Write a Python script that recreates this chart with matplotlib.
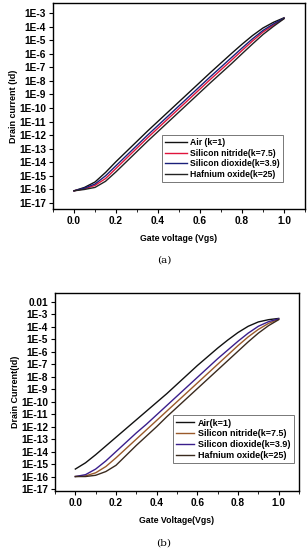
import numpy as np
import matplotlib
matplotlib.use("Agg")
import matplotlib.pyplot as plt
from matplotlib.ticker import FixedLocator, FixedFormatter, MultipleLocator, NullLocator

plt.rcParams['font.family'] = ['Liberation Sans', 'DejaVu Sans']

# gate voltage (V)
vgs = [0.0, 0.05, 0.1, 0.15, 0.2, 0.25, 0.3, 0.35, 0.4, 0.45, 0.5,
       0.55, 0.6, 0.65, 0.7, 0.75, 0.8, 0.85, 0.9, 0.95, 1.0]

# (a) log10 of drain current
air_a = [-16.1, -15.85, -15.45, -14.75, -13.95, -13.2, -12.45, -11.7, -10.98, -10.26, -9.54,
         -8.82, -8.1, -7.38, -6.68, -5.98, -5.3, -4.66, -4.1, -3.68, -3.35]
nitride_a = [-16.1, -15.95, -15.7, -15.2, -14.45, -13.7, -12.95, -12.2, -11.48, -10.76, -10.04,
             -9.32, -8.6, -7.88, -7.18, -6.48, -5.76, -5.06, -4.4, -3.88, -3.4]
dioxide_a = [-16.1, -15.9, -15.6, -15.0, -14.25, -13.5, -12.75, -12.0, -11.28, -10.56, -9.84,
             -9.12, -8.4, -7.68, -6.98, -6.28, -5.58, -4.9, -4.28, -3.8, -3.38]
hafnium_a = [-16.1, -16.0, -15.85, -15.4, -14.7, -13.95, -13.2, -12.45, -11.73, -11.01, -10.29,
             -9.57, -8.85, -8.13, -7.43, -6.73, -6.0, -5.28, -4.58, -3.98, -3.42]

# (b) log10 of drain current
air_b = [-15.4, -14.9, -14.25, -13.55, -12.85, -12.15, -11.45, -10.75, -10.05, -9.35, -8.6,
         -7.85, -7.1, -6.4, -5.7, -5.05, -4.45, -3.95, -3.6, -3.42, -3.32]
nitride_b = [-16.0, -15.95, -15.7, -15.2, -14.5, -13.75, -13.0, -12.25, -11.5, -10.75, -10.0,
             -9.25, -8.5, -7.75, -7.0, -6.25, -5.5, -4.8, -4.2, -3.72, -3.38]
dioxide_b = [-16.0, -15.85, -15.4, -14.75, -14.0, -13.25, -12.5, -11.8, -11.05, -10.3, -9.55,
             -8.8, -8.05, -7.3, -6.55, -5.85, -5.15, -4.5, -3.95, -3.58, -3.35]
hafnium_b = [-16.0, -16.0, -15.9, -15.6, -15.1, -14.3, -13.5, -12.75, -12.0, -11.2, -10.45,
             -9.7, -8.95, -8.2, -7.45, -6.7, -5.95, -5.2, -4.5, -3.9, -3.42]

labels_a = ["Air (k=1)", "Silicon nitride(k=7.5)", "Silicon dioxide(k=3.9)", "Hafnium oxide(k=25)"]
labels_b = ["Air(k=1)", "Silicon nitride(k=7.5)", "Silicon dioxide(k=3.9)", "Hafnium oxide(k=25)"]

decades_a = list(range(-17, -2))
ticklabels_a = ["1E%d" % d for d in decades_a]
decades_b = list(range(-17, -1))
ticklabels_b = ["1E%d" % d for d in decades_b[:-1]] + ["0.01"]
xticks = [0.0, 0.2, 0.4, 0.6, 0.8, 1.0]


def panel(ax, curves, colors, labels, decades, ticklabels, ylim, xlabel, ylabel,
          legpos, legsize, handlelen):
    v = np.array(vgs)
    for c, col, lab in zip(curves, colors, labels):
        ax.plot(v, 10.0 ** np.array(c), color=col, lw=1.0, label=lab)
    ax.set_yscale("log")
    ax.set_xlim(-0.1, 1.1)
    ax.set_ylim(10.0 ** ylim[0], 10.0 ** ylim[1])
    ax.yaxis.set_major_locator(FixedLocator([10.0 ** d for d in decades]))
    ax.yaxis.set_major_formatter(FixedFormatter(ticklabels))
    ax.yaxis.set_minor_locator(NullLocator())
    ax.set_xticks(xticks)
    ax.set_xticklabels(["%.1f" % x for x in xticks])
    ax.xaxis.set_minor_locator(MultipleLocator(0.1))
    ax.tick_params(direction="out", length=3, width=0.8, labelsize=7.3, pad=2)
    ax.tick_params(which="minor", direction="out", length=1.8, width=0.6)
    for lab in ax.get_xticklabels() + ax.get_yticklabels():
        lab.set_fontweight("bold")
    for s in ax.spines.values():
        s.set_linewidth(1.0)
    ax.set_xlabel(xlabel, fontsize=6.3, fontweight="bold", labelpad=6)
    ax.set_ylabel(ylabel, fontsize=6.5, fontweight="bold", labelpad=1)
    leg = ax.legend(loc="lower left", bbox_to_anchor=legpos, fontsize=legsize, frameon=True,
                    fancybox=False, edgecolor="#555555", handlelength=handlelen,
                    handletextpad=0.4, borderpad=0.35, labelspacing=0.2, borderaxespad=0)
    leg.get_frame().set_linewidth(0.7)
    for t in leg.get_texts():
        t.set_fontweight("bold")


fig = plt.figure(figsize=(3.08, 5.5), dpi=100)

ax1 = fig.add_axes([53 / 308, 1 - 209 / 550, 252 / 308, 206 / 550])
panel(ax1, [air_a, nitride_a, dioxide_a, hafnium_a],
      ["#111111", "#e0143c", "#1a1f7a", "#222222"], labels_a,
      decades_a, ticklabels_a, (-17.44, -2.26),
      "Gate voltage (Vgs)", "Drain current (Id)", (0.433, 0.131), 6.2, 2.5)

ax2 = fig.add_axes([55 / 308, 1 - 491 / 550, 244 / 308, 198 / 550])
panel(ax2, [air_b, nitride_b, dioxide_b, hafnium_b],
      ["#111111", "#9a5a2a", "#3a1e8c", "#3a2a1e"], labels_b,
      decades_b, ticklabels_b, (-17.16, -1.28),
      "Gate Voltage(Vgs)", "Drain Current(Id)", (0.484, 0.141), 6.5, 2.0)

fig.text(164 / 308, 1 - 260 / 550, "(a)", ha="center", va="center", fontsize=7.5,
         family="DejaVu Serif")
fig.text(164 / 308, 1 - 543 / 550, "(b)", ha="center", va="center", fontsize=7.5,
         family="DejaVu Serif")

fig.savefig("out.png", dpi=100)
